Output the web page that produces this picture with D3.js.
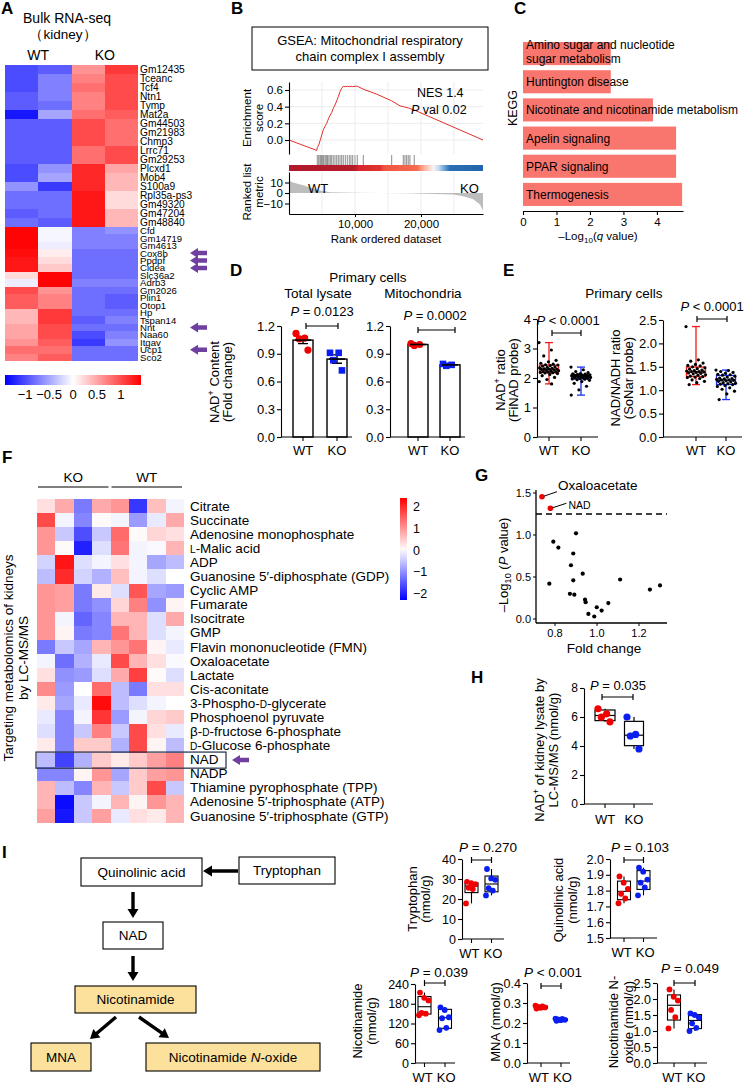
<!DOCTYPE html>
<html>
<head>
<meta charset="utf-8">
<script src="https://cdn.jsdelivr.net/npm/d3@7"></script>
<style>
  body { margin: 0; background: #fff; }
  svg { display: block; font-family: "Liberation Sans", Arial, Helvetica, sans-serif; }
</style>
</head>
<body>
<svg id="fig" width="748" height="1085"></svg>
<script>
'use strict';

// ---------- A: bulk RNA-seq heatmap (z-scores, columns WT1 WT2 KO1 KO2) ----------
const rnaGenes = ['Gm12435', 'Tceanc', 'Tcf4', 'Ntn1', 'Tymp', 'Mat2a', 'Gm44503', 'Gm21983', 'Chmp3',
  'Lrrc71', 'Gm29253', 'Plcxd1', 'Mob4', 'S100a9', 'Rpl35a-ps3', 'Gm49320', 'Gm47204', 'Gm48840',
  'Cfd', 'Gm14719', 'Gm4613', 'Cox8b', 'Ppdpf', 'Cidea', 'Slc36a2', 'Adrb3', 'Gm2026', 'Plin1',
  'Otop1', 'Hp', 'Tspan14', 'Nnt', 'Naa60', 'Itgav', 'Ucp1', 'Sco2'];
const rnaZ = [
  [-1.0, -0.9, 0.6, 1.1], [-1.0, -0.7, 0.7, 1.0], [-1.0, -0.7, 0.8, 1.0], [-0.9, -0.7, 0.7, 1.0],
  [-0.9, -0.8, 0.7, 1.0], [-1.3, -0.5, 0.8, 0.9], [-0.9, -0.9, 1.0, 0.8], [-0.9, -0.9, 1.0, 0.8],
  [-0.9, -0.9, 1.0, 0.8], [-0.9, -0.9, 0.8, 1.0], [-0.9, -0.9, 0.8, 1.0], [-1.0, -0.6, 1.2, 0.5],
  [-1.0, -0.5, 1.2, 0.4], [-0.6, -1.1, 1.2, 0.4], [-0.8, -0.8, 1.3, 0.2], [-0.8, -0.8, 1.3, 0.2],
  [-0.9, -0.8, 1.3, 0.4], [-0.8, -0.9, 1.3, 0.4],
  [1.4, -0.05, -0.7, -0.6], [1.4, -0.05, -0.7, -0.7], [1.4, -0.1, -0.7, -0.7], [1.35, 0.1, -0.8, -0.8],
  [1.3, 0.2, -0.8, -0.8], [1.3, 0.3, -0.8, -0.8], [0.2, 1.4, -0.8, -0.8], [-0.1, 1.4, -0.7, -0.7],
  [1.0, 0.6, -0.8, -0.8], [0.9, 0.7, -0.8, -0.9], [0.9, 0.7, -0.8, -0.9], [0.4, 1.1, -0.8, -0.8],
  [0.4, 1.1, -0.9, -0.7], [0.5, 1.0, -0.8, -0.8], [0.5, 1.0, -1.0, -0.7], [0.6, 0.9, -1.1, -0.6],
  [0.8, 0.8, -0.8, -0.8], [0.7, 0.9, -0.8, -0.8]];
const rnaGroups = ['WT', 'KO'];
const rnaUpInKO = 18; // first 18 genes form the upper cluster
const rnaArrowGenes = ['Cox8b', 'Ppdpf', 'Cidea', 'Nnt', 'Ucp1'];
const rnaScaleTicks = [-1, -0.5, 0, 0.5, 1];

// ---------- B: GSEA ----------
const esCurve = [[0, 0], [4200, -0.125], [4290, -0.09], [4500, -0.06], [4700, -0.01], [4850, 0.03],
  [5000, 0.07], [5150, 0.11], [5300, 0.14], [5500, 0.17], [5710, 0.2], [5860, 0.23], [6060, 0.27],
  [6260, 0.3], [6470, 0.33], [6710, 0.38], [6970, 0.42], [7230, 0.47], [7470, 0.52], [7730, 0.58],
  [7980, 0.62], [8230, 0.645], [8530, 0.64], [8830, 0.645], [9140, 0.64], [9390, 0.645], [9650, 0.64],
  [10000, 0.645], [10350, 0.645], [11260, 0.61], [13290, 0.55], [15560, 0.47], [16820, 0.41],
  [17320, 0.4], [18070, 0.385], [18980, 0.36], [19850, 0.33], [29400, 0.0]];
const gseaHits = [4290, 4500, 4700, 4850, 5000, 5150, 5300, 5500, 5710, 5860, 6060, 6260, 6470, 6710,
  6970, 7230, 7470, 7730, 7980, 8230, 8530, 8830, 9140, 9390, 9650, 10000, 10350, 11260, 15560,
  17320, 17570, 17830, 18070, 18330, 18980];
const rankedMetric = [[0, 12], [600, 10], [2170, 7.5], [4200, 3], [6210, 0.6], [10000, 0.2],
  [17830, -0.3], [24900, -1.5], [26400, -3], [27920, -6], [28940, -11], [29400, -17]];
const rankBarStops = [0, 0.34, 0.36, 0.47, 0.49, 0.66, 0.69, 0.72, 0.745, 0.77, 0.8, 0.83, 1];
const rankBarColors = ['#b2182b', '#b41c2c', '#d7262b', '#e0352f', '#f0563f', '#f46a50', '#f8a68e',
  '#fbd2c4', '#f7f4f4', '#c6dcef', '#6fa6d6', '#2a6db2', '#2166ac'];
const gseaRankTicks = [10000, 20000];
const gseaGrid = [5000, 10000, 15000, 20000, 25000];
const esTicks = [0, 0.2, 0.4, 0.6];
const metricTicks = [-10, 0, 10];

// ---------- C: KEGG ----------
const keggTerms = [['Amino sugar and nucleotide', 'sugar metabolism'], ['Huntington disease'],
  ['Nicotinate and nicotinamide metabolism'], ['Apelin signaling'], ['PPAR signaling'], ['Thermogenesis']];
const keggValues = [2.62, 2.62, 3.88, 4.57, 4.57, 4.75];
const keggTicks = [0, 1, 2, 3, 4];

// ---------- D: NAD+ content, primary cells ----------
const dLysateWT = [1.12, 1.07, 1.06, 0.94];
const dLysateKO = [0.91, 0.91, 0.83, 0.72];
const dMitoWT = [1.01, 1.0, 0.99];
const dMitoKO = [0.79, 0.78, 0.77];
const dTicks = [0, 0.3, 0.6, 0.9, 1.2];

// ---------- E: NAD+ probes ----------
const eFinadWT = [3.2, 2.95, 2.75, 2.6, 2.55, 2.5, 2.47, 2.45, 2.44, 2.42, 2.4, 2.38, 2.36, 2.34, 2.33,
  2.31, 2.3, 2.3, 2.29, 2.28, 2.26, 2.25, 2.23, 2.22, 2.21, 2.2, 2.19, 2.18, 2.17, 2.15, 2.12, 2.08,
  2.02, 1.95, 1.88, 1.8];
const eFinadKO = [2.37, 2.28, 2.22, 2.18, 2.15, 2.14, 2.13, 2.12, 2.11, 2.1, 2.1, 2.09, 2.08, 2.08,
  2.07, 2.07, 2.06, 2.05, 2.05, 2.04, 2.03, 2.02, 2.01, 2.0, 1.99, 1.98, 1.97, 1.96, 1.94, 1.92, 1.88,
  1.82, 1.72, 1.6, 1.42];
const eSonarWT = [2.36, 1.65, 1.62, 1.58, 1.55, 1.53, 1.52, 1.5, 1.48, 1.46, 1.45, 1.43, 1.42, 1.41,
  1.4, 1.4, 1.39, 1.38, 1.37, 1.36, 1.35, 1.33, 1.32, 1.3, 1.29, 1.28, 1.27, 1.25, 1.22, 1.19, 1.16, 1.12];
const eSonarKO = [1.43, 1.42, 1.4, 1.38, 1.36, 1.34, 1.33, 1.32, 1.3, 1.28, 1.26, 1.25, 1.24, 1.23,
  1.22, 1.22, 1.21, 1.2, 1.19, 1.18, 1.16, 1.15, 1.14, 1.13, 1.12, 1.1, 1.08, 1.05, 1.02, 0.98, 0.92, 0.8];

// ---------- F: targeted metabolomics heatmap (columns KO1-4, WT1-4) ----------
const metabolites = [
  ['Citrate'], ['Succinate'], ['Adenosine monophosphate'], [{ t: 'L', sc: true }, '-Malic acid'], ['ADP'],
  ['Guanosine 5\u2032-diphosphate (GDP)'], ['Cyclic AMP'], ['Fumarate'], ['Isocitrate'], ['GMP'],
  ['Flavin mononucleotide (FMN)'], ['Oxaloacetate'], ['Lactate'], ['Cis-aconitate'],
  ['3-Phospho-', { t: 'D', sc: true }, '-glycerate'], ['Phosphoenol pyruvate'],
  ['\u03b2-', { t: 'D', sc: true }, '-fructose 6-phosphate'], [{ t: 'D', sc: true }, '-Glucose 6-phosphate'],
  ['NAD'], ['NADP'], ['Thiamine pyrophosphate (TPP)'], ['Adenosine 5\u2032-triphosphate (ATP)'],
  ['Guanosine 5\u2032-triphosphate (GTP)']];
const metabZ = [
  [0.3, 0.8, -1.2, 0.8, 1.0, -1.8, 0.6, -0.1], [1.7, -0.1, -1.1, 0.05, -0.1, -0.9, -0.2, 0.8],
  [1.0, -0.5, -1.6, -0.5, 1.4, 0.05, 0.4, 0.3], [1.0, 0.05, -2.0, -0.3, 1.3, -0.1, -0.05, 0.7],
  [-0.4, 2.2, -0.3, -0.1, 0.3, -0.1, -0.8, -0.6], [-0.6, 2.0, -0.4, -0.7, 0.6, -0.1, -0.3, 0.0],
  [1.0, 0.9, -1.2, 0.2, -0.3, 1.6, -0.8, -0.9], [1.0, 0.9, -1.2, -1.0, 0.4, 1.2, -1.0, 0.1],
  [1.0, -0.1, -1.4, -1.1, 0.7, 0.7, -0.3, 0.8], [1.0, 0.1, -1.2, -1.1, 1.3, 0.7, -0.3, -0.1],
  [-1.2, -0.5, -0.8, 0.7, 1.0, 1.3, 0.1, -0.2], [-0.1, -1.3, -0.7, -0.2, 1.7, 0.7, 0.3, -0.05],
  [0.3, -1.0, -0.9, -0.3, 0.8, 1.8, 0.05, -0.3], [1.1, -0.9, 0.0, 1.4, -0.6, -1.2, 0.3, 0.3],
  [0.2, -0.8, -0.2, 2.3, -0.6, -0.3, -0.1, 0.0], [-0.2, -1.1, -0.1, 1.9, -0.9, -0.1, 0.4, 0.5],
  [-0.3, -1.1, -0.5, 1.2, -0.5, 1.7, 0.3, -0.2], [0.2, -1.1, 0.5, 0.5, -0.7, 1.7, 0.1, -0.6],
  [-0.6, -1.7, -0.7, 0.5, 0.2, 0.5, 0.9, 1.2], [-1.1, -1.1, 0.1, 1.0, -0.8, 0.5, 0.9, 1.0],
  [0.7, -0.6, -1.1, 0.7, -0.5, 0.5, 1.7, -0.5], [0.7, -2.2, -0.5, -0.1, 0.7, 0.1, 1.0, 0.7],
  [0.9, -2.1, -0.5, 0.9, -0.2, 0.3, 0.2, 0.7]];
const metabGroups = ['KO', 'WT'];
const metabScaleTicks = [2, 1, 0, -1, -2];

// ---------- G: volcano ----------
const volcanoFc = [0.738, 0.778, 0.9, 0.792, 0.816, 0.887, 0.876, 0.932, 0.887, 0.773, 1.11, 0.871,
  0.892, 0.943, 0.946, 0.999, 1.054, 1.022, 0.959, 0.987, 1.252, 1.3];
const volcanoP = [1.456, 1.318, 1.02, 0.92, 0.85, 0.78, 0.64, 0.54, 0.46, 0.42, 0.47, 0.3, 0.29,
  0.23, 0.2, 0.14, 0.19, 0.1, 0.06, 0.03, 0.35, 0.4];
const volcanoNames = ['Oxaloacetate', 'NAD'];
const volcanoCutoff = 1.25;
const gXTicks = [0.8, 1.0, 1.2];
const gYTicks = [0, 0.5, 1.0, 1.5];

// ---------- H: NAD+ in kidney lysate ----------
const hWT = [6.57, 6.22, 5.99, 5.67];
const hKO = [6.0, 4.8, 4.69, 3.8];
const hTicks = [0, 2, 4, 6, 8];

// ---------- I: pathway metabolites ----------
const trpWT = [17.8, 25.0, 25.6, 27.4, 27.9, 28.6];
const trpKO = [21.8, 24.2, 25.4, 29.6, 30.3, 35.0];
const quinWT = [1.72, 1.75, 1.78, 1.81, 1.85, 1.89];
const quinKO = [1.77, 1.82, 1.85, 1.87, 1.92, 1.945];
const namWT = [145, 150, 152, 190, 198, 214];
const namKO = [100, 107, 136, 139, 161, 169];
const mnaWT = [0.287, 0.283, 0.28, 0.278, 0.276, 0.272];
const mnaKO = [0.222, 0.22, 0.218, 0.216, 0.214, 0.211];
const noxWT = [1.08, 1.43, 1.66, 1.95, 2.07, 2.3];
const noxKO = [1.0, 1.1, 1.24, 1.42, 1.5, 1.55];
const pathwayNodes = ['Quinolinic acid', 'Tryptophan', 'NAD', 'Nicotinamide', 'MNA', 'Nicotinamide N-oxide'];

// colours
const RED = '#f00000';
const BLUE = '#0a1ef0';
const PURPLE = '#7040a0';
const YELLOW = '#fbe19c';

const svg = d3.select('#fig');
svg.append('rect').attr('width', 748).attr('height', 1085).attr('fill', '#fff');
const defs = svg.append('defs');

//
// HELPERS
//

// parts: strings or {t, i, sup, sub, sc}
function rich(sel, parts, size) {
  let shift = 0;
  parts.forEach(p => {
    if (typeof p === 'string') p = { t: p };
    const ts = sel.append('tspan').text(p.t);
    let target = 0;
    if (p.sup) target = -size * 0.38;
    if (p.sub) target = size * 0.22;
    if (target !== shift) {
      ts.attr('dy', target - shift);
      shift = target;
    }
    if (p.sup || p.sub) ts.attr('font-size', size * 0.7);
    if (p.sc) ts.attr('font-size', size * 0.75);
    if (p.i) ts.attr('font-style', 'italic');
  });
  return sel;
}

function label(g, x, y, parts, o = {}) {
  const size = o.size || 13;
  const t = g.append('text')
    .attr('font-size', size)
    .attr('text-anchor', o.anchor || 'start');
  if (o.rotate) t.attr('transform', `translate(${x},${y}) rotate(-90)`);
  else t.attr('x', x).attr('y', y);
  if (o.weight) t.attr('font-weight', o.weight);
  rich(t, Array.isArray(parts) ? parts : [parts], size);
  return t;
}

function panelLetter(x, y, s) {
  label(svg, x, y, s, { size: 17, weight: 'bold' });
}

// quartiles the way the plotting program computes them: position p*(n+1)
function quant6(sorted, p) {
  const n = sorted.length;
  const pos = p * (n + 1) - 1;
  if (pos <= 0) return sorted[0];
  if (pos >= n - 1) return sorted[n - 1];
  const lo = Math.floor(pos);
  return sorted[lo] + (pos - lo) * (sorted[lo + 1] - sorted[lo]);
}

function jit(i, spread) {
  return (((i * 0.6180339887) % 1) - 0.5) * spread;
}

function blockArrow(g, x1, y1, x2, y2, o) {
  const len = Math.hypot(x2 - x1, y2 - y1);
  const ux = (x2 - x1) / len, uy = (y2 - y1) / len;
  const px = -uy, py = ux;
  const bx = x2 - ux * o.hl, by = y2 - uy * o.hl;
  const pts = [
    [x1 + px * o.sw / 2, y1 + py * o.sw / 2],
    [bx + px * o.sw / 2, by + py * o.sw / 2],
    [bx + px * o.hw / 2, by + py * o.hw / 2],
    [x2, y2],
    [bx - px * o.hw / 2, by - py * o.hw / 2],
    [bx - px * o.sw / 2, by - py * o.sw / 2],
    [x1 - px * o.sw / 2, y1 - py * o.sw / 2]];
  g.append('polygon').attr('points', pts.map(p => p.join(',')).join(' ')).attr('fill', o.fill || '#000');
}

function leftAxis(g, x, scale, ticks, fmt, size) {
  const a = g.append('g')
    .attr('transform', `translate(${x},0)`)
    .call(d3.axisLeft(scale).tickValues(ticks).tickFormat(fmt).tickSize(4).tickSizeOuter(0));
  a.attr('font-family', null).attr('font-size', size);
  a.selectAll('path, line').attr('stroke', '#000').attr('stroke-width', 1.1);
  a.selectAll('text').attr('fill', '#000').attr('x', -6);
  return a;
}

// category axis: baseline from x0 to x1 with ticks at group centres
function catAxis(g, x0, x1, y, centres, names, size, labelY, tight) {
  g.append('line').attr('x1', x0).attr('x2', x1).attr('y1', y).attr('y2', y)
    .attr('stroke', '#000').attr('stroke-width', 1.1);
  centres.forEach(cx => g.append('line').attr('x1', cx).attr('x2', cx).attr('y1', y).attr('y2', y + 4)
    .attr('stroke', '#000').attr('stroke-width', 1.1));
  if (tight) {
    // labels set as one "WT KO" run centred between the groups
    const mid = (centres[0] + centres[1]) / 2;
    label(g, mid - 2, labelY, names[0], { size: size, anchor: 'end' });
    label(g, mid + 2, labelY, names[1], { size: size, anchor: 'start' });
  } else {
    centres.forEach((cx, i) => label(g, cx, labelY, names[i], { size: size, anchor: 'middle' }));
  }
}

function bracket(g, x1, x2, y) {
  g.append('path')
    .attr('d', `M${x1},${y - 3}V${y + 3}M${x1},${y}H${x2}M${x2},${y - 3}V${y + 3}`)
    .attr('fill', 'none').attr('stroke', '#000').attr('stroke-width', 1.2);
}

function boxPlot(g, cx, w, vals, y, o) {
  const s = vals.slice().sort(d3.ascending);
  const q1 = quant6(s, 0.25), med = quant6(s, 0.5), q3 = quant6(s, 0.75);
  const stroke = o.stroke || '#000';
  const sw = o.sw || 1.1;
  g.append('line').attr('x1', cx).attr('x2', cx).attr('y1', y(s[0])).attr('y2', y(q1))
    .attr('stroke', stroke).attr('stroke-width', sw);
  g.append('line').attr('x1', cx).attr('x2', cx).attr('y1', y(q3)).attr('y2', y(s[s.length - 1]))
    .attr('stroke', stroke).attr('stroke-width', sw);
  if (o.cap) {
    [s[0], s[s.length - 1]].forEach(v => g.append('line')
      .attr('x1', cx - o.cap / 2).attr('x2', cx + o.cap / 2).attr('y1', y(v)).attr('y2', y(v))
      .attr('stroke', stroke).attr('stroke-width', sw));
  }
  g.append('rect').attr('x', cx - w / 2).attr('y', y(q3)).attr('width', w).attr('height', y(q1) - y(q3))
    .attr('fill', '#fff').attr('stroke', stroke).attr('stroke-width', sw);
  g.append('line').attr('x1', cx - w / 2).attr('x2', cx + w / 2).attr('y1', y(med)).attr('y2', y(med))
    .attr('stroke', stroke).attr('stroke-width', sw);
}

function dots(g, cx, vals, y, spread, r, fill) {
  g.selectAll(null).data(vals).join('circle')
    .attr('cx', (d, i) => cx + jit(i, spread))
    .attr('cy', d => y(d))
    .attr('r', r)
    .attr('fill', fill);
}

function pLabel(g, cx, y, op, val, size) {
  label(g, cx, y, [{ t: 'P', i: true }, ` ${op} ${val}`], { size: size || 13, anchor: 'middle' });
}

function gradient(id, stops, colors, vertical) {
  const lg = defs.append('linearGradient').attr('id', id)
    .attr('x1', 0).attr('y1', vertical ? 1 : 0).attr('x2', vertical ? 0 : 1).attr('y2', 0);
  stops.forEach((s, i) => lg.append('stop').attr('offset', s).attr('stop-color', colors[i]));
}

//
// A
//
(function panelA() {
  const g = svg.append('g');
  panelLetter(1, 14, 'A');
  label(g, 67, 23, 'Bulk RNA-seq', { size: 14, anchor: 'middle' });
  label(g, 63, 39, '\uff08kidney\uff09', { size: 13.5, anchor: 'middle' });

  const x = d3.scaleBand().domain(d3.range(4)).range([5, 138]);
  // the two gene clusters are drawn with different row heights, as in the source figure
  const yUp = d3.scaleBand().domain(rnaGenes.slice(0, rnaUpInKO)).range([65, 227]);
  const yDown = d3.scaleBand().domain(rnaGenes.slice(rnaUpInKO)).range([227, 361]);
  const isUp = gn => yUp(gn) !== undefined;
  const rowY = gn => (isUp(gn) ? yUp(gn) : yDown(gn));
  const rowH = gn => (isUp(gn) ? yUp.bandwidth() : yDown.bandwidth());
  const color = d3.scaleLinear().domain([-1.42, 0, 1.42]).range(['#0000ff', '#ffffff', '#ff0000']);

  rnaGroups.forEach((name, i) =>
    label(g, x(2 * i) + x.bandwidth(), 60, name, { size: 14, anchor: 'middle' }));

  const cells = rnaZ.flatMap((row, r) => row.map((v, c) => ({ gene: rnaGenes[r], c, v })));
  g.selectAll(null).data(cells).join('rect')
    .attr('x', d => x(d.c)).attr('y', d => rowY(d.gene))
    .attr('width', x.bandwidth() + 0.3).attr('height', d => rowH(d.gene) + 0.3)
    .attr('fill', d => color(d.v))
    .attr('shape-rendering', 'crispEdges');

  rnaGenes.forEach(gn =>
    label(g, 140, rowY(gn) + rowH(gn) / 2 + 3.5, gn, { size: isUp(gn) ? 10.2 : 9.6 }));

  rnaArrowGenes.forEach(gn => {
    const yc = rowY(gn) + rowH(gn) / 2;
    blockArrow(g, 207, yc, 190, yc, { sw: 4.5, hl: 8, hw: 10, fill: PURPLE });
  });

  // colour scale
  const sx = d3.scaleLinear().domain([-1.42, 1.42]).range([5, 141]);
  const st = d3.range(0, 1.0001, 0.1);
  gradient('gradA', st, st.map(t => color(-1.42 + 2.84 * t)), false);
  g.append('rect').attr('x', 5).attr('y', 375).attr('width', 136).attr('height', 10).attr('fill', 'url(#gradA)');
  rnaScaleTicks.forEach(t =>
    label(g, sx(t), 399, t < 0 ? '\u2212' + Math.abs(t) : String(t), { size: 13, anchor: 'middle' }));
})();

//
// B
//
(function panelB() {
  const g = svg.append('g');
  panelLetter(231, 14, 'B');
  g.append('rect').attr('x', 252).attr('y', 27).attr('width', 236).attr('height', 43)
    .attr('fill', 'none').attr('stroke', '#000').attr('stroke-width', 1);
  label(g, 370, 45, 'GSEA: Mitochondrial respiratory', { size: 13, anchor: 'middle' });
  label(g, 370, 61, 'chain complex I assembly', { size: 13, anchor: 'middle' });

  const x = d3.scaleLinear().domain([0, 29400]).range([289, 483]);
  const esY = d3.scaleLinear().domain([0, 0.6]).range([140, 90]);
  const rmY = d3.scaleLinear().domain([-20, 20]).range([214, 172]);

  // grid
  gseaGrid.forEach(r => {
    g.append('line').attr('x1', x(r)).attr('x2', x(r)).attr('y1', 82).attr('y2', 154).attr('stroke', '#ececec');
    g.append('line').attr('x1', x(r)).attr('x2', x(r)).attr('y1', 172).attr('y2', 214).attr('stroke', '#ececec');
  });
  esTicks.forEach(t =>
    g.append('line').attr('x1', 289).attr('x2', 483).attr('y1', esY(t)).attr('y2', esY(t)).attr('stroke', '#ececec'));

  g.append('path').datum(esCurve)
    .attr('d', d3.line().x(d => x(d[0])).y(d => esY(d[1])))
    .attr('fill', 'none').attr('stroke', '#e0302c').attr('stroke-width', 1);

  leftAxis(g, 289, esY.copy().domain([-0.168, 0.696]).range([154, 82]), esTicks, d3.format('.1f'), 11.5);
  label(g, 251, 118, 'Enrichment', { size: 11.5, anchor: 'middle', rotate: true });
  label(g, 263, 118, 'score', { size: 11.5, anchor: 'middle', rotate: true });
  label(g, 417, 97, 'NES 1.4', { size: 12.5 });
  label(g, 411, 114, [{ t: 'P', i: true }, ' val 0.02'], { size: 12.5 });

  // hits
  g.selectAll(null).data(gseaHits).join('line')
    .attr('x1', d => x(d)).attr('x2', d => x(d)).attr('y1', 155).attr('y2', 165)
    .attr('stroke', '#000').attr('stroke-width', 0.6).attr('stroke-opacity', 0.75);

  gradient('gradB', rankBarStops, rankBarColors, false);
  g.append('rect').attr('x', 289).attr('y', 165).attr('width', 194).attr('height', 6).attr('fill', 'url(#gradB)');

  // ranked list metric
  g.append('path').datum(rankedMetric)
    .attr('d', d3.area().x(d => x(d[0])).y0(rmY(0)).y1(d => rmY(d[1])))
    .attr('fill', '#bdbdbd');
  leftAxis(g, 289, rmY, metricTicks, d => d < 0 ? '\u2212' + Math.abs(d) : String(d), 11.5);
  label(g, 251, 192, 'Ranked list', { size: 11.5, anchor: 'middle', rotate: true });
  label(g, 263, 192, 'metric', { size: 11.5, anchor: 'middle', rotate: true });
  label(g, 308, 193, 'WT', { size: 13 });
  label(g, 460, 193, 'KO', { size: 13 });

  const ax = g.append('g').attr('transform', 'translate(0,214)')
    .call(d3.axisBottom(x).tickValues(gseaRankTicks).tickFormat(d3.format(',')).tickSize(3).tickSizeOuter(0));
  ax.attr('font-family', null).attr('font-size', 11.5);
  ax.selectAll('path, line').attr('stroke', '#000');
  ax.selectAll('text').attr('fill', '#000');
  label(g, 386, 243, 'Rank ordered dataset', { size: 11.5, anchor: 'middle' });
})();

//
// C
//
(function panelC() {
  const g = svg.append('g');
  panelLetter(514, 14, 'C');
  const x = d3.scaleLinear().domain([0, 4]).range([523, 657]);
  const y = d3.scaleBand().domain(d3.range(keggTerms.length)).range([39.5, 208.5])
    .paddingInner(0.18).paddingOuter(0.09);

  g.selectAll(null).data(keggValues).join('rect')
    .attr('x', x(0)).attr('y', (d, i) => y(i))
    .attr('width', d => x(d) - x(0)).attr('height', y.bandwidth())
    .attr('fill', '#f8766d');

  keggTerms.forEach((lines, i) => {
    const yc = y(i) + y.bandwidth() / 2;
    if (lines.length === 1) label(g, 526, yc + 4.5, lines[0], { size: 12 });
    else {
      label(g, 526, yc - 5, lines[0], { size: 12 });
      label(g, 526, yc + 9, lines[1], { size: 12 });
    }
  });

  const ax = g.append('g').attr('transform', 'translate(0,211)')
    .call(d3.axisBottom(x.copy().domain([0, 4.78]).range([523, 683]))
      .tickValues(keggTicks).tickFormat(d3.format('d')).tickSize(4).tickSizeOuter(0));
  ax.attr('font-family', null).attr('font-size', 11.5);
  ax.selectAll('path, line').attr('stroke', '#000').attr('stroke-width', 1.1);
  ax.selectAll('text').attr('fill', '#000');
  label(g, 517, 108, 'KEGG', { size: 12.5, anchor: 'middle', rotate: true });
  label(g, 598, 240, ['\u2013Log', { t: '10', sub: true }, '(', { t: 'q', i: true }, ' value)'], { size: 11.5, anchor: 'middle' });
})();

//
// D
//
(function panelD() {
  const g = svg.append('g');
  panelLetter(230, 276, 'D');
  label(g, 368, 282, 'Primary cells', { size: 13.5, anchor: 'middle' });
  label(g, 318, 298, 'Total lysate', { size: 13.5, anchor: 'middle' });
  label(g, 423, 298, 'Mitochondria', { size: 13.5, anchor: 'middle' });

  const y = d3.scaleLinear().domain([0, 1.2]).range([437, 326]);
  label(g, 219, 382, ['NAD', { t: '+', sup: true }, ' Content'], { size: 13, anchor: 'middle', rotate: true });
  label(g, 232, 382, '(Fold change)', { size: 13, anchor: 'middle', rotate: true });

  const plots = [
    { ax: 281, end: 352, wt: 303, ko: 337, WT: dLysateWT, KO: dLysateKO, p: '0.0123', px: 322, py: 316, by: 326, b1: 306, b2: 338 },
    { ax: 390, end: 465, wt: 418, ko: 450, WT: dMitoWT, KO: dMitoKO, p: '0.0002', px: 435, py: 320, by: 330, b1: 418, b2: 455 }];

  plots.forEach(pl => {
    [[pl.wt, pl.WT, 'c'], [pl.ko, pl.KO, 's']].forEach(([cx, vals, shape]) => {
      const m = d3.mean(vals);
      const sem = d3.deviation(vals) / Math.sqrt(vals.length);
      g.append('rect').attr('x', cx - 10).attr('y', y(m)).attr('width', 20).attr('height', y(0) - y(m))
        .attr('fill', '#fff').attr('stroke', '#000').attr('stroke-width', 1.4);
      g.append('path')
        .attr('d', `M${cx},${y(m - sem)}V${y(m + sem)}M${cx - 5},${y(m + sem)}H${cx + 5}M${cx - 5},${y(m - sem)}H${cx + 5}`)
        .attr('stroke', '#000').attr('stroke-width', 1.4).attr('fill', 'none');
      vals.forEach((v, i) => {
        const px = cx + jit(i, 14);
        if (shape === 'c') g.append('circle').attr('cx', px).attr('cy', y(v)).attr('r', 3.6).attr('fill', RED);
        else g.append('rect').attr('x', px - 3.3).attr('y', y(v) - 3.3).attr('width', 6.6).attr('height', 6.6).attr('fill', BLUE);
      });
      g.append('line').attr('x1', cx - 8).attr('x2', cx + 8).attr('y1', y(m)).attr('y2', y(m))
        .attr('stroke', '#000').attr('stroke-width', 1.6);
    });
    leftAxis(g, pl.ax, y, dTicks, d3.format('.1f'), 13);
    catAxis(g, pl.ax, pl.end, 437, [pl.wt, pl.ko], ['WT', 'KO'], 13, 455);
    pLabel(g, pl.px, pl.py, '=', pl.p);
    bracket(g, pl.b1, pl.b2, pl.by);
  });
})();

//
// E
//
(function panelE() {
  const g = svg.append('g');
  panelLetter(503, 276, 'E');
  label(g, 624, 298, 'Primary cells', { size: 13.5, anchor: 'middle' });

  const yl = d3.scaleLinear().domain([0, 4]).range([437, 319]);
  const yr = d3.scaleLinear().domain([0, 2.5]).range([437, 320]);

  label(g, 505, 380, ['NAD', { t: '+', sup: true }, ' ratio'], { size: 13, anchor: 'middle', rotate: true });
  label(g, 518, 380, '(FiNAD probe)', { size: 13, anchor: 'middle', rotate: true });
  label(g, 620, 378, 'NAD/NADH ratio', { size: 13, anchor: 'middle', rotate: true });
  label(g, 633, 378, '(SoNar probe)', { size: 13, anchor: 'middle', rotate: true });

  const plots = [
    { ax: 537, end: 598, wt: 549, ko: 581, y: yl, WT: eFinadWT, KO: eFinadKO, ticks: [0, 1, 2, 3, 4], fmt: d3.format('d'),
      px: 568, py: 325, by: 333, b1: 552, b2: 581 },
    { ax: 663, end: 742, wt: 696, ko: 726, y: yr, WT: eSonarWT, KO: eSonarKO, ticks: [0, 0.5, 1, 1.5, 2, 2.5], fmt: d3.format('.1f'),
      px: 712, py: 311, by: 319, b1: 697, b2: 727 }];

  plots.forEach(pl => {
    boxPlot(g, pl.wt, 19, pl.WT, pl.y, { stroke: '#f01818', sw: 1.3, cap: 8 });
    boxPlot(g, pl.ko, 19, pl.KO, pl.y, { stroke: '#1a30f0', sw: 1.3, cap: 8 });
    dots(g, pl.wt, pl.WT, pl.y, 20, 1.6, '#000');
    dots(g, pl.ko, pl.KO, pl.y, 20, 1.6, '#000');
    leftAxis(g, pl.ax, pl.y, pl.ticks, pl.fmt, 13);
    catAxis(g, pl.ax, pl.end, 437, [pl.wt, pl.ko], ['WT', 'KO'], 13, 455);
    pLabel(g, pl.px, pl.py, '<', '0.0001');
    bracket(g, pl.b1, pl.b2, pl.by);
  });
})();

//
// F
//
(function panelF() {
  const g = svg.append('g');
  panelLetter(2, 463, 'F');
  const x = d3.scaleBand().domain(d3.range(8)).range([37, 184]);
  const y = d3.scaleBand().domain(d3.range(metabolites.length)).range([499, 823]);
  const color = d3.scaleLinear().domain([-2.3, 0, 2.4]).range(['#0000ff', '#ffffff', '#ff0000']);

  metabGroups.forEach((name, i) => {
    const x0 = x(4 * i) + 1, x1 = x(4 * i + 3) + x.bandwidth() - 2;
    label(g, (x0 + x1) / 2, 482, name, { size: 13.5, anchor: 'middle' });
    g.append('line').attr('x1', x0).attr('x2', x1).attr('y1', 487).attr('y2', 487).attr('stroke', '#000').attr('stroke-width', 1.2);
  });

  const cells = metabZ.flatMap((row, r) => row.map((v, c) => ({ r, c, v })));
  g.selectAll(null).data(cells).join('rect')
    .attr('x', d => x(d.c)).attr('y', d => y(d.r))
    .attr('width', x.bandwidth() + 0.3).attr('height', y.bandwidth() + 0.3)
    .attr('fill', d => color(d.v))
    .attr('shape-rendering', 'crispEdges');

  metabolites.forEach((parts, r) =>
    label(g, 190, y(r) + y.bandwidth() / 2 + 4.6, parts, { size: 13.5 }));

  const nadRow = metabolites.findIndex(p => p[0] === 'NAD');
  g.append('rect').attr('x', 36).attr('y', y(nadRow) - 0.5).attr('width', 190).attr('height', y.bandwidth() + 2)
    .attr('fill', 'none').attr('stroke', '#1c2c44').attr('stroke-width', 1.2);
  blockArrow(g, 249, y(nadRow) + y.bandwidth() / 2 + 0.5, 232, y(nadRow) + y.bandwidth() / 2 + 0.5,
    { sw: 4.5, hl: 8, hw: 10, fill: PURPLE });

  // colour scale
  const sy = d3.scaleLinear().domain([-2.3, 2.4]).range([600, 498]);
  const st = d3.range(0, 1.0001, 0.1);
  gradient('gradF', st, st.map(t => color(-2.3 + 4.7 * t)), true);
  g.append('rect').attr('x', 400).attr('y', 498).attr('width', 7).attr('height', 102).attr('fill', 'url(#gradF)');
  metabScaleTicks.forEach(t =>
    label(g, 413, sy(t) + 4.5, t < 0 ? '\u2212' + Math.abs(t) : String(t), { size: 12.5 }));

  label(g, 13, 658, 'Targeting metabolomics of kidneys', { size: 13.5, anchor: 'middle', rotate: true });
  label(g, 28, 658, 'by LC-MS/MS', { size: 13.5, anchor: 'middle', rotate: true });
})();

//
// G
//
(function panelG() {
  const g = svg.append('g');
  panelLetter(475, 481, 'G');
  const x = d3.scaleLinear().domain([0.8, 1.2]).range([555, 639]);
  const y = d3.scaleLinear().domain([0, 1.5]).range([619, 493]);

  g.append('line').attr('x1', 536).attr('x2', 536).attr('y1', 490).attr('y2', 623).attr('stroke', '#000').attr('stroke-width', 1.3);
  g.append('line').attr('x1', 536).attr('x2', 667).attr('y1', 623).attr('y2', 623).attr('stroke', '#000').attr('stroke-width', 1.3);
  gYTicks.forEach(t => {
    g.append('line').attr('x1', 533).attr('x2', 536).attr('y1', y(t)).attr('y2', y(t)).attr('stroke', '#000');
    label(g, 531, y(t) + 4, d3.format('.1f')(t), { size: 11, anchor: 'end' });
  });
  gXTicks.forEach(t => {
    g.append('line').attr('x1', x(t)).attr('x2', x(t)).attr('y1', 623).attr('y2', 626).attr('stroke', '#000');
    label(g, x(t), 637, d3.format('.1f')(t), { size: 11, anchor: 'middle' });
  });
  g.append('line').attr('x1', 536).attr('x2', 667).attr('y1', y(volcanoCutoff)).attr('y2', y(volcanoCutoff))
    .attr('stroke', '#000').attr('stroke-width', 1.5).attr('stroke-dasharray', '6,4');

  g.selectAll(null).data(volcanoFc).join('circle')
    .attr('cx', d => x(d)).attr('cy', (d, i) => y(volcanoP[i]))
    .attr('r', (d, i) => i < volcanoNames.length ? 2.8 : 2.1)
    .attr('fill', (d, i) => i < volcanoNames.length ? RED : '#000');

  // callouts
  const ox = x(volcanoFc[0]), oy = y(volcanoP[0]);
  g.append('line').attr('x1', ox + 2).attr('y1', oy - 0.5).attr('x2', ox + 15).attr('y2', oy - 5).attr('stroke', '#000');
  label(g, ox + 16, oy - 7, volcanoNames[0], { size: 13.5 });
  const nx = x(volcanoFc[1]), ny = y(volcanoP[1]);
  g.append('line').attr('x1', nx + 2).attr('y1', ny - 0.5).attr('x2', nx + 16).attr('y2', ny - 5).attr('stroke', '#000');
  label(g, nx + 18, ny + 0.5, volcanoNames[1], { size: 10.5 });

  label(g, 508, 565, ['\u2013Log', { t: '10', sub: true }, ' (', { t: 'P', i: true }, ' value)'], { size: 13, anchor: 'middle', rotate: true });
  label(g, 604, 653, 'Fold change', { size: 13.5, anchor: 'middle' });
})();

//
// H
//
(function panelH() {
  const g = svg.append('g');
  panelLetter(471, 683, 'H');
  const y = d3.scaleLinear().domain([0, 8]).range([804, 688]);
  boxPlot(g, 605, 20, hWT, y, { sw: 1.2 });
  boxPlot(g, 634, 19, hKO, y, { sw: 1.2 });
  dots(g, 605, hWT, y, 14, 3.6, RED);
  dots(g, 634, hKO, y, 14, 3.6, BLUE);
  leftAxis(g, 584, y, hTicks, d3.format('d'), 12);
  catAxis(g, 584, 653, 804, [605, 634], ['WT', 'KO'], 13, 824);
  pLabel(g, 618, 690, '=', '0.035');
  bracket(g, 602, 633, 697);
  label(g, 544, 750, ['NAD', { t: '+', sup: true }, ' of kidney lysate by'], { size: 13, anchor: 'middle', rotate: true });
  label(g, 558, 750, 'LC-MS/MS (nmol/g)', { size: 13, anchor: 'middle', rotate: true });
})();

//
// I
//
(function panelI() {
  const g = svg.append('g');
  panelLetter(2, 858, 'I');

  // pathway boxes: [x, y, w, h, fill]
  const boxes = [[81, 858, 121, 28, '#fff'], [239, 857, 96, 27, '#fff'], [103, 922, 60, 27, '#fff'],
    [75, 986, 121, 27, YELLOW], [31, 1043, 60, 28, YELLOW], [146, 1043, 174, 28, YELLOW]];
  pathwayNodes.forEach((name, i) => {
    const [bx, by, bw, bh, fill] = boxes[i];
    g.append('rect').attr('x', bx).attr('y', by).attr('width', bw).attr('height', bh)
      .attr('fill', fill).attr('stroke', '#000').attr('stroke-width', 1.1);
    const parts = name === 'Nicotinamide N-oxide' ? ['Nicotinamide ', { t: 'N', i: true }, '-oxide'] : [name];
    label(g, bx + bw / 2, by + bh / 2 + 4.8, parts, { size: 13.5, anchor: 'middle' });
  });
  const aw = { sw: 3.4, hl: 9, hw: 11 };
  blockArrow(g, 238, 871, 203, 871, aw);
  blockArrow(g, 133, 892, 133, 918, aw);
  blockArrow(g, 133, 956, 133, 981, aw);
  blockArrow(g, 116, 1017, 90, 1039, aw);
  blockArrow(g, 139, 1017, 169, 1038, aw);

  const plots = [
    { ax: 462, end: 504, wt: 471.5, ko: 491.5, dom: [0, 40], top: 859, bottom: 939, ticks: [0, 10, 20, 30, 40], fmt: d3.format('d'),
      WT: trpWT, KO: trpKO, op: '=', p: '0.270', px: 488, py: 852, by: 860, lab: ['Tryptophan', '(nmol/g)'], lx: [417, 430], ly: 899 },
    { ax: 610, end: 657, wt: 624, ko: 643.5, dom: [1.5, 2.0], top: 859, bottom: 938, ticks: [1.5, 1.6, 1.7, 1.8, 1.9, 2.0], fmt: d3.format('.1f'),
      WT: quinWT, KO: quinKO, op: '=', p: '0.103', px: 640, py: 852, by: 860, lab: ['Quinolinic acid', '(nmol/g)'], lx: [563, 577], ly: 900 },
    { ax: 415, end: 455, wt: 424.5, ko: 445, dom: [0, 240], top: 984, bottom: 1063, ticks: [0, 60, 120, 180, 240], fmt: d3.format('d'),
      WT: namWT, KO: namKO, op: '=', p: '0.039', px: 439, py: 977, by: 983, lab: ['Nicotinamide', '(nmol/g)'], lx: [362, 376], ly: 1021 },
    { ax: 527, end: 570, wt: 541, ko: 561, dom: [0, 0.4], top: 983, bottom: 1063, ticks: [0, 0.1, 0.2, 0.3, 0.4], fmt: d3.format('.1f'),
      WT: mnaWT, KO: mnaKO, op: '<', p: '0.001', px: 553, py: 977, by: 986, lab: ['MNA (nmol/g)'], lx: [500], ly: 1022 },
    { ax: 657, end: 707, wt: 674, ko: 695, dom: [0, 2.5], top: 983, bottom: 1063, ticks: [0, 0.5, 1, 1.5, 2, 2.5], fmt: d3.format('.1f'),
      WT: noxWT, KO: noxKO, op: '=', p: '0.049', px: 690, py: 973, by: 983, lab: ['Nicotinamide N-', 'oxide (nmol/g)'], lx: [618, 633], ly: 1022 }];

  plots.forEach(pl => {
    const y = d3.scaleLinear().domain(pl.dom).range([pl.bottom, pl.top]);
    boxPlot(g, pl.wt, 13, pl.WT, y, { sw: 1.1 });
    boxPlot(g, pl.ko, 13, pl.KO, y, { sw: 1.1 });
    dots(g, pl.wt, pl.WT, y, 11, 2.9, RED);
    dots(g, pl.ko, pl.KO, y, 11, 2.9, BLUE);
    leftAxis(g, pl.ax, y, pl.ticks, pl.fmt, 12.5);
    catAxis(g, pl.ax, pl.end, pl.bottom, [pl.wt, pl.ko], ['WT', 'KO'], 13, pl.bottom + 19, true);
    pLabel(g, pl.px, pl.py, pl.op, pl.p, 13.5);
    bracket(g, pl.wt, pl.ko, pl.by);
    pl.lab.forEach((l, i) => label(g, pl.lx[i], pl.ly, l, { size: 13, anchor: 'middle', rotate: true }));
  });
})();
</script>
</body>
</html>
